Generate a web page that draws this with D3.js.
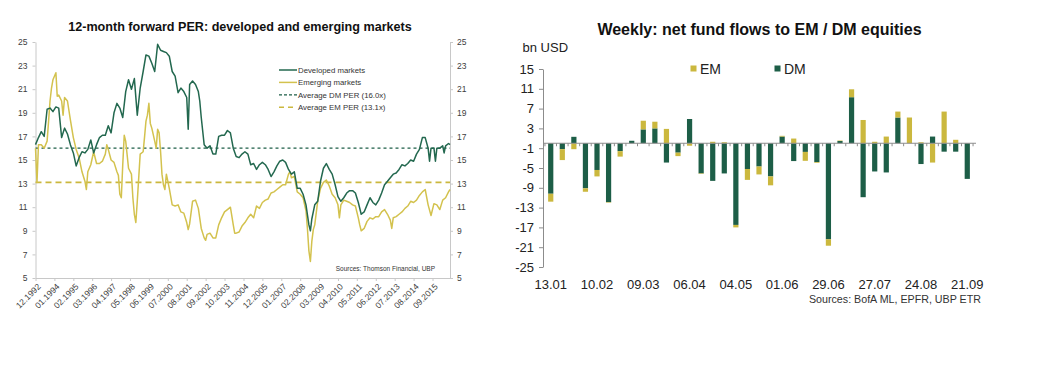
<!DOCTYPE html>
<html>
<head>
<meta charset="utf-8">
<script src="https://cdn.jsdelivr.net/npm/d3@7"></script>
<style>
  body { margin: 0; background: #fff; }
  svg { display: block; }
  text { font-family: "Liberation Sans", Arial, sans-serif; }
</style>
</head>
<body>
<svg id="chart" width="1041" height="365"></svg>
<script>
// ---- left chart: 12-month forward PER ----
var dmPer = [
  ["1992-12",16.3],["1993-02",16.9],["1993-04",17.4],["1993-06",17.0],["1993-08",19.3],["1993-10",19.4],
  ["1993-12",19.1],["1994-02",19.5],["1994-04",19.4],["1994-06",16.9],["1994-08",17.7],["1994-10",17.2],
  ["1994-12",16.3],["1995-02",15.6],["1995-04",14.5],["1995-06",15.2],["1995-08",15.7],["1995-10",15.6],
  ["1995-12",15.9],["1996-02",16.7],["1996-04",15.6],["1996-06",16.3],["1996-08",16.9],["1996-10",17.1],
  ["1996-12",17.1],["1997-02",17.9],["1997-04",17.3],["1997-06",19.0],["1997-08",19.8],["1997-10",19.4],
  ["1997-12",18.6],["1998-02",20.8],["1998-04",21.8],["1998-06",21.0],["1998-08",21.9],["1998-10",18.8],
  ["1998-12",21.1],["1999-02",22.5],["1999-04",23.9],["1999-06",23.8],["1999-08",23.2],["1999-10",22.5],
  ["1999-12",24.8],["2000-02",24.3],["2000-04",24.2],["2000-06",24.1],["2000-08",23.8],["2000-10",22.5],
  ["2000-12",22.1],["2001-02",20.7],["2001-04",21.1],["2001-06",20.8],["2001-08",20.3],["2001-09",17.6],
  ["2001-10",21.4],["2001-12",21.7],["2002-02",21.4],["2002-04",20.8],["2002-05",20.0],["2002-06",18.6],
  ["2002-08",16.3],["2002-10",16.0],["2002-12",16.2],["2003-02",15.5],["2003-04",15.5],["2003-06",17.0],
  ["2003-08",17.1],["2003-10",17.1],["2003-12",17.5],["2004-02",17.3],["2004-04",16.0],["2004-06",15.3],
  ["2004-08",15.2],["2004-10",15.5],["2004-12",15.7],["2005-02",15.5],["2005-04",14.6],["2005-06",14.7],
  ["2005-08",14.2],["2005-10",14.6],["2005-12",14.8],["2006-02",14.6],["2006-04",14.2],["2006-06",13.6],
  ["2006-08",14.0],["2006-10",14.5],["2006-12",14.9],["2007-02",15.0],["2007-04",14.8],["2007-06",14.2],
  ["2007-08",13.8],["2007-10",14.0],["2007-12",12.6],["2008-02",12.6],["2008-04",12.1],["2008-06",11.2],
  ["2008-08",9.5],["2008-09",9.0],["2008-10",10.0],["2008-12",11.2],["2009-02",11.5],["2009-04",13.2],
  ["2009-06",14.3],["2009-08",14.7],["2009-10",14.2],["2009-12",13.8],["2010-02",12.9],["2010-04",11.9],
  ["2010-06",11.5],["2010-08",11.8],["2010-10",12.2],["2010-12",12.4],["2011-02",12.4],["2011-04",12.2],
  ["2011-06",11.4],["2011-08",10.4],["2011-10",10.6],["2011-12",11.2],["2012-02",11.8],["2012-04",11.4],
  ["2012-06",11.2],["2012-08",11.6],["2012-10",12.2],["2012-12",12.9],["2013-02",13.2],["2013-04",13.5],
  ["2013-06",13.8],["2013-08",13.9],["2013-10",14.2],["2013-12",14.6],["2014-02",14.5],["2014-04",14.7],
  ["2014-06",15.0],["2014-08",14.9],["2014-10",15.5],["2014-12",15.9],["2015-02",16.9],["2015-04",16.9],
  ["2015-06",16.0],["2015-07",14.9],["2015-08",16.0],["2015-10",16.0],["2015-11",14.9],["2015-12",16.0],
  ["2016-02",16.0],["2016-04",16.2],["2016-05",15.6],["2016-06",16.2],["2016-08",16.4],["2016-09",16.3]
]
var emPer = [
  ["1992-12",16.0],["1993-01",13.1],["1993-02",16.3],["1993-04",16.3],["1993-06",16.0],["1993-08",16.6],
  ["1993-09",18.3],["1993-10",20.0],["1993-11",21.1],["1993-12",21.8],["1994-02",22.4],["1994-03",20.4],
  ["1994-04",20.5],["1994-06",20.0],["1994-07",18.8],["1994-08",20.3],["1994-10",20.0],["1994-12",18.4],
  ["1995-02",16.9],["1995-04",15.9],["1995-06",15.2],["1995-08",14.0],["1995-10",13.2],["1995-11",12.5],
  ["1995-12",14.0],["1996-02",14.6],["1996-04",15.7],["1996-06",14.7],["1996-08",14.7],["1996-10",14.9],
  ["1996-12",15.5],["1997-01",16.3],["1997-02",15.9],["1997-04",15.0],["1997-06",14.8],["1997-08",14.0],
  ["1997-09",13.7],["1997-10",12.1],["1997-11",11.8],["1997-12",14.6],["1998-01",17.1],["1998-02",16.6],
  ["1998-04",14.3],["1998-06",13.8],["1998-07",11.8],["1998-08",10.4],["1998-09",9.7],["1998-10",11.5],
  ["1998-12",15.5],["1999-02",15.7],["1999-03",16.9],["1999-04",18.3],["1999-05",18.8],["1999-06",19.8],
  ["1999-07",18.1],["1999-08",17.7],["1999-10",16.6],["1999-11",16.0],["1999-12",17.6],["2000-01",17.3],
  ["2000-02",15.7],["2000-03",13.8],["2000-04",12.9],["2000-05",12.5],["2000-06",13.8],["2000-08",12.6],
  ["2000-10",11.2],["2000-12",11.1],["2001-02",11.2],["2001-04",10.6],["2001-06",10.5],["2001-08",9.7],
  ["2001-09",9.1],["2001-10",9.6],["2001-12",11.5],["2002-02",11.6],["2002-04",10.9],["2002-06",9.2],
  ["2002-08",8.4],["2002-09",8.2],["2002-10",8.7],["2002-12",8.8],["2003-02",8.4],["2003-04",8.4],
  ["2003-06",9.5],["2003-08",10.1],["2003-10",10.6],["2003-12",10.8],["2004-02",11.0],["2004-04",9.5],
  ["2004-05",8.8],["2004-06",8.8],["2004-08",8.9],["2004-10",9.4],["2004-12",9.7],["2005-02",10.1],
  ["2005-04",10.4],["2005-06",10.1],["2005-08",11.1],["2005-10",10.9],["2005-12",11.4],["2006-02",11.6],
  ["2006-04",11.7],["2006-06",12.2],["2006-08",12.3],["2006-10",12.5],["2006-12",12.7],["2007-02",12.9],
  ["2007-04",12.9],["2007-06",13.8],["2007-07",14.0],["2007-08",13.5],["2007-10",13.6],["2007-12",12.3],
  ["2008-02",12.1],["2008-04",11.8],["2008-06",10.7],["2008-07",9.2],["2008-08",7.3],["2008-09",6.4],
  ["2008-10",8.1],["2008-11",9.1],["2008-12",9.5],["2009-02",11.5],["2009-04",12.6],["2009-06",13.1],
  ["2009-08",13.3],["2009-10",12.8],["2009-12",12.1],["2010-02",11.8],["2010-04",11.2],["2010-05",10.1],
  ["2010-06",11.2],["2010-08",11.6],["2010-10",11.5],["2010-12",11.4],["2011-02",11.2],["2011-04",11.1],
  ["2011-06",10.1],["2011-07",9.5],["2011-08",9.0],["2011-10",9.2],["2011-12",9.8],["2012-02",10.1],
  ["2012-04",10.0],["2012-06",10.2],["2012-08",10.2],["2012-10",10.6],["2012-12",10.8],["2013-02",10.4],
  ["2013-04",9.9],["2013-05",9.2],["2013-06",10.1],["2013-08",10.2],["2013-10",10.4],["2013-12",10.6],
  ["2014-02",10.9],["2014-04",11.1],["2014-06",11.5],["2014-08",11.4],["2014-10",11.6],["2014-12",12.0],
  ["2015-02",12.3],["2015-04",12.5],["2015-06",11.2],["2015-08",10.3],["2015-10",11.3],["2015-12",11.2],
  ["2016-02",10.8],["2016-04",11.6],["2016-06",11.8],["2016-08",12.3],["2016-09",12.5]
]
var dmAverage = 16.0
var emAverage = 13.1
var perTicks = [5, 7, 9, 11, 13, 15, 17, 19, 21, 23, 25]
var dateTicks = ["1992-12","1994-01","1995-02","1996-03","1997-04","1998-05","1999-06","2000-07","2001-08",
  "2002-09","2003-10","2004-11","2005-12","2007-01","2008-02","2009-03","2010-04","2011-05","2012-06",
  "2013-07","2014-08","2015-09"]

// ---- right chart: weekly flows, bn USD ----
var weeks = ["13.01","20.01","27.01","03.02","10.02","17.02","24.02","02.03","09.03","16.03","23.03","30.03",
  "06.04","13.04","20.04","27.04","04.05","11.05","18.05","25.05","01.06","08.06","15.06","22.06","29.06",
  "06.07","13.07","20.07","27.07","03.08","10.08","17.08","24.08","31.08","07.09","14.09","21.09"]
var dmFlows = [-10.2,-1.2,1.3,-9.1,-5.4,-11.9,-1.6,0.5,2.8,3.0,-3.9,-1.9,4.9,-6.1,-7.6,-6.1,-16.5,-5.2,-4.7,
  -6.7,1.35,-3.6,-1.75,-3.8,-19.4,0.45,9.3,-10.9,-5.7,-5.9,5.2,0,-4.2,1.35,-1.7,-1.7,-7.2]
var emFlows = [-1.6,-2.2,-1.2,-0.7,-1.3,-0.1,-1.1,0,1.75,1.35,2.9,-0.7,-0.5,-0.1,0.3,0.2,-0.5,-2.2,-1.6,
  -1.8,0.15,0.95,-1.8,-0.15,-1.3,0.1,1.6,4.7,0.3,1.35,1.2,5.2,0.2,-3.9,6.4,0.7,0]
var flowTicks = [-25, -21, -17, -13, -9, -5, -1, 3, 7, 11, 15]
var weekLabels = ["13.01","10.02","09.03","06.04","04.05","01.06","29.06","27.07","24.08","21.09"]

var dmColor = "#1d5e47"
var emColor = "#cbb83e"
var svg = d3.select("#chart")
var parseMonth = d3.timeParse("%Y-%m")

// ================= left chart =================
var x = d3.scaleTime()
  .domain([parseMonth("1992-12"), parseMonth("2016-09")])
  .range([35.5, 450])
var y = d3.scaleLinear().domain([5, 25]).range([278, 42])

var left = svg.append("g")

left.append("text")
  .attr("x", 240).attr("y", 31)
  .attr("text-anchor", "middle")
  .attr("font-size", 12.6).attr("font-weight", "bold").attr("fill", "#111")
  .text("12-month forward PER: developed and emerging markets")

var yAxisL = left.append("g")
  .attr("transform", "translate(35.5,0)")
  .call(d3.axisLeft(y).tickValues(perTicks).tickSize(3).tickPadding(5).tickSizeOuter(0))
var yAxisR = left.append("g")
  .attr("transform", "translate(450,0)")
  .call(d3.axisRight(y).tickValues(perTicks).tickSize(3).tickPadding(4).tickSizeOuter(0))
var xAxis = left.append("g")
  .attr("transform", "translate(0,278)")
  .call(d3.axisBottom(x).tickValues(dateTicks.map(parseMonth)).tickFormat(d3.timeFormat("%m.%Y"))
    .tickSize(3).tickSizeOuter(0))
xAxis.selectAll(".tick text")
  .attr("text-anchor", "end")
  .attr("dx", "-0.1em").attr("dy", "0.5em")
  .attr("transform", "rotate(-45) translate(-2,0)")

;[yAxisL, yAxisR, xAxis].forEach(function (g) {
  g.style("color", "#404040")
  g.select(".domain").attr("stroke", "#c8c8c8")
  g.selectAll(".tick line").attr("stroke", "#c8c8c8")
  g.selectAll(".tick text").attr("font-size", 8.5).attr("fill", "#404040")
    .attr("font-family", "Liberation Sans, Arial, sans-serif")
})

// averages
left.append("line")
  .attr("x1", 35.5).attr("x2", 450)
  .attr("y1", y(dmAverage)).attr("y2", y(dmAverage))
  .attr("stroke", dmColor).attr("stroke-width", 1.3).attr("stroke-dasharray", "3,3")
left.append("line")
  .attr("x1", 35.5).attr("x2", 450)
  .attr("y1", y(emAverage)).attr("y2", y(emAverage))
  .attr("stroke", emColor).attr("stroke-width", 1.6).attr("stroke-dasharray", "6,4")

var line = d3.line()
  .x(d => x(parseMonth(d[0])))
  .y(d => y(d[1]))

left.append("path")
  .datum(emPer)
  .attr("fill", "none")
  .attr("stroke", "#d3c24e")
  .attr("stroke-width", 1.5)
  .attr("stroke-linejoin", "round")
  .attr("d", line)
left.append("path")
  .datum(dmPer)
  .attr("fill", "none")
  .attr("stroke", "#23684f")
  .attr("stroke-width", 1.5)
  .attr("stroke-linejoin", "round")
  .attr("d", line)

// legend
var legendItems = [
  {label: "Developed markets", color: "#23684f", dash: null, w: 1.5},
  {label: "Emerging markets", color: "#d3c24e", dash: null, w: 1.5},
  {label: "Average DM PER (16.0x)", color: dmColor, dash: "3,2", w: 1.2},
  {label: "Average EM PER (13.1x)", color: emColor, dash: "5,4", w: 1.4}
]
var legend = left.append("g")
legendItems.forEach(function (item, i) {
  var ly = 70 + i * 12.4
  legend.append("line")
    .attr("x1", 279).attr("x2", 297).attr("y1", ly).attr("y2", ly)
    .attr("stroke", item.color).attr("stroke-width", item.w)
    .attr("stroke-dasharray", item.dash)
  legend.append("text")
    .attr("x", 298).attr("y", ly + 2.8)
    .attr("font-size", 7.8).attr("fill", "#333")
    .text(item.label)
})

left.append("text")
  .attr("x", 435).attr("y", 270.5)
  .attr("text-anchor", "end")
  .attr("font-size", 6.5).attr("fill", "#333")
  .text("Sources: Thomson Financial, UBP")

// ================= right chart =================
var rows = weeks.map((w, i) => ({week: w, dm: dmFlows[i], em: emFlows[i]}))
var series = d3.stack().keys(["dm", "em"]).offset(d3.stackOffsetDiverging)(rows)

var xb = d3.scaleBand().domain(weeks).range([545, 973]).paddingInner(0.55).paddingOuter(0.27)
var yb = d3.scaleLinear().domain([-25, 15]).range([267, 69])

var right = svg.append("g")

right.append("text")
  .attr("x", 759.5).attr("y", 34.5)
  .attr("text-anchor", "middle")
  .attr("font-size", 16).attr("font-weight", "bold").attr("fill", "#111")
  .text("Weekly: net fund flows to EM / DM equities")

right.append("text")
  .attr("x", 522.5).attr("y", 51.5)
  .attr("font-size", 13).attr("fill", "#222")
  .text("bn USD")

var colors = {dm: dmColor, em: emColor}
right.append("g")
  .selectAll("g")
  .data(series)
  .join("g")
  .attr("fill", s => colors[s.key])
  .selectAll("rect")
  .data(s => s)
  .join("rect")
  .attr("x", d => xb(d.data.week))
  .attr("width", xb.bandwidth())
  .attr("y", d => yb(Math.max(d[0], d[1])))
  .attr("height", d => Math.abs(yb(d[0]) - yb(d[1])))

var yAxisB = right.append("g")
  .attr("transform", "translate(543,0)")
  .call(d3.axisLeft(yb).tickValues(flowTicks).tickFormat(d => String(d))
    .tickSize(4).tickPadding(5).tickSizeOuter(0))
yAxisB.style("color", "#222")
yAxisB.select(".domain").attr("stroke", "#8c8c8c")
yAxisB.selectAll(".tick line").attr("stroke", "#8c8c8c")
yAxisB.selectAll(".tick text").attr("font-size", 13).attr("fill", "#222")
  .attr("font-family", "Liberation Sans, Arial, sans-serif")

// zero line with small ticks between weeks
var step = xb.step()
var gap = (step - xb.bandwidth()) / 2
var bounds = weeks.map(w => xb(w) - gap).concat([xb(weeks[weeks.length - 1]) + xb.bandwidth() + gap])
right.append("line")
  .attr("x1", 543).attr("x2", 976)
  .attr("y1", yb(0)).attr("y2", yb(0))
  .attr("stroke", "#8c8c8c").attr("stroke-width", 1)
right.append("g")
  .selectAll("line")
  .data(bounds)
  .join("line")
  .attr("x1", d => d).attr("x2", d => d)
  .attr("y1", yb(0)).attr("y2", yb(0) + 3)
  .attr("stroke", "#8c8c8c")

right.append("g")
  .selectAll("text")
  .data(weekLabels)
  .join("text")
  .attr("x", d => xb(d) + xb.bandwidth() / 2)
  .attr("y", 288.5)
  .attr("text-anchor", "middle")
  .attr("font-size", 13).attr("fill", "#222")
  .text(d => d)

// legend
var flowLegend = [{key: "em", label: "EM", x: 690.5}, {key: "dm", label: "DM", x: 774.5}]
flowLegend.forEach(function (item) {
  right.append("rect")
    .attr("x", item.x).attr("y", 65.5).attr("width", 6).attr("height", 6)
    .attr("fill", colors[item.key])
  right.append("text")
    .attr("x", item.x + 9.5).attr("y", 73.5)
    .attr("font-size", 14).attr("fill", "#222")
    .text(item.label)
})

right.append("text")
  .attr("x", 981).attr("y", 302.5)
  .attr("text-anchor", "end")
  .attr("font-size", 10.7).attr("fill", "#333")
  .text("Sources: BofA ML, EPFR, UBP ETR")
</script>
</body>
</html>
